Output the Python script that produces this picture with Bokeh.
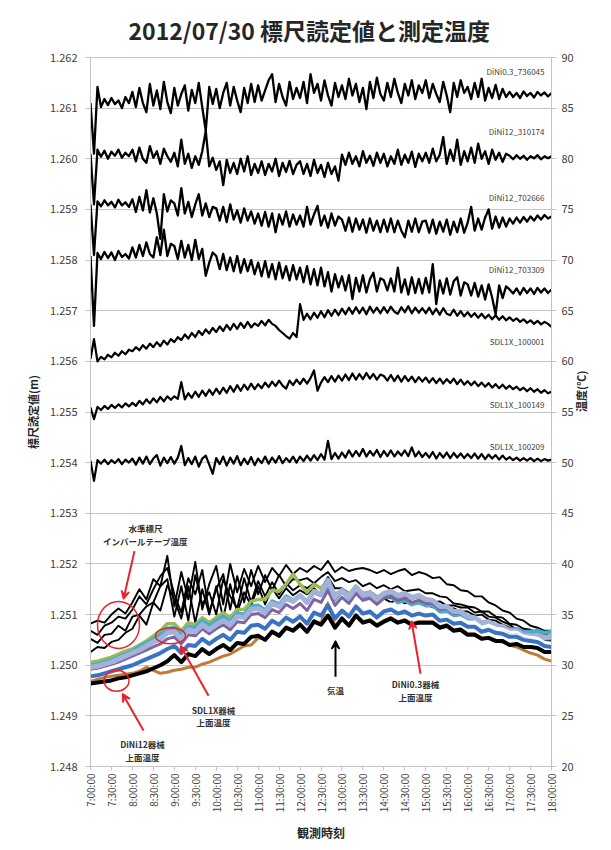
import math
from bokeh.plotting import figure
from bokeh.models import Range1d, LinearAxis, FixedTicker, NumeralTickFormatter, Label, Arrow, VeeHead
from bokeh.embed import file_html
from bokeh.resources import INLINE

FONT = "Noto Sans CJK JP"

# ---------------- data ----------------
title_text = "2012/07/30 標尺読定値と測定温度"
time_labels = ["7:00:00", "7:30:00", "8:00:00", "8:30:00", "9:00:00", "9:30:00", "10:00:00", "10:30:00",
               "11:00:00", "11:30:00", "12:00:00", "12:30:00", "13:00:00", "13:30:00", "14:00:00", "14:30:00",
               "15:00:00", "15:30:00", "16:00:00", "16:30:00", "17:00:00", "17:30:00", "18:00:00"]
left_ticks = [1.248, 1.249, 1.250, 1.251, 1.252, 1.253, 1.254, 1.255, 1.256, 1.257, 1.258, 1.259, 1.260, 1.261, 1.262]
right_ticks = [20, 25, 30, 35, 40, 45, 50, 55, 60, 65, 70, 75, 80, 85, 90]

# staff readings (m), every 5 minutes from 7:00
dini03_736045 = [1.26110, 1.26010, 1.26142,
    1.26102, 1.26118, 1.26106, 1.26120, 1.26108, 1.26115, 1.26100, 1.26122, 1.26110,
    1.26132, 1.26102, 1.26140, 1.26110, 1.26092, 1.26148, 1.26105, 1.26135, 1.26098, 1.26152, 1.26112, 1.26090,
    1.26140, 1.26105, 1.26128, 1.26145, 1.26095, 1.26136, 1.26110, 1.26150, 1.26102, 1.26055, 1.26142, 1.26108,
    1.26138, 1.26100, 1.26130, 1.26150, 1.26105, 1.26142, 1.26115, 1.26092, 1.26140, 1.26110, 1.26148, 1.26112,
    1.26145, 1.26115, 1.26135, 1.26155, 1.26167, 1.26112, 1.26148, 1.26122, 1.26105, 1.26152, 1.26118, 1.26140,
    1.26120, 1.26152, 1.26110, 1.26167, 1.26130, 1.26148, 1.26115, 1.26155, 1.26125, 1.26105, 1.26150, 1.26122,
    1.26145, 1.26118, 1.26158, 1.26125, 1.26148, 1.26112, 1.26140, 1.26098, 1.26152, 1.26120, 1.26160, 1.26128,
    1.26115, 1.26150, 1.26122, 1.26158, 1.26130, 1.26110, 1.26148, 1.26125, 1.26155, 1.26118, 1.26145, 1.26130,
    1.26155, 1.26120, 1.26148, 1.26128, 1.26112, 1.26152, 1.26125, 1.26092, 1.26150, 1.26122, 1.26155, 1.26130,
    1.26142, 1.26118, 1.26150, 1.26122, 1.26158, 1.26115, 1.26140, 1.26120, 1.26146, 1.26118, 1.26138, 1.26122,
    1.26132, 1.26122, 1.26130, 1.26120, 1.26133, 1.26124, 1.26130, 1.26121, 1.26132, 1.26125, 1.26131, 1.26123, 1.26130]
dini12_310174 = [1.26010, 1.25910, 1.26018,
    1.26004, 1.26016, 1.26000, 1.26014, 1.26006, 1.26018, 1.26002, 1.26012, 1.26005,
    1.26018, 1.25995, 1.26022, 1.26000, 1.25992, 1.26025, 1.26002, 1.26015, 1.25990, 1.26020, 1.26005, 1.25994,
    1.26012, 1.25985, 1.26038, 1.25990, 1.26010, 1.25982, 1.26005, 1.25988, 1.26015, 1.26055, 1.25985, 1.26002,
    1.25978, 1.25995, 1.25948, 1.25998, 1.25972, 1.25992, 1.25970, 1.26000, 1.25975, 1.26005, 1.25968, 1.25990,
    1.25972, 1.25995, 1.25968, 1.25990, 1.25975, 1.26000, 1.25966, 1.25992, 1.25974, 1.25996, 1.25970, 1.25988,
    1.25995, 1.25970, 1.25990, 1.25966, 1.25998, 1.25972, 1.25988, 1.25964, 1.25992, 1.25970, 1.25985, 1.25957,
    1.26008, 1.25988, 1.26012, 1.25990, 1.26005, 1.25985, 1.26015, 1.25992, 1.26006, 1.25986, 1.26012, 1.25992,
    1.26010, 1.25985, 1.26005, 1.25990, 1.26018, 1.25988, 1.26008, 1.25992, 1.26014, 1.25984, 1.26010, 1.25995,
    1.26012, 1.25992, 1.26020, 1.25995, 1.26008, 1.26043, 1.25990, 1.26018, 1.25996, 1.26038, 1.25988, 1.26015,
    1.25995, 1.26022, 1.25992, 1.26030, 1.26000, 1.26015, 1.25990, 1.26018, 1.25998, 1.26012, 1.25994, 1.26010,
    1.26006, 1.25999, 1.26007, 1.26000, 1.26006, 1.25998, 1.26005, 1.26001, 1.26007, 1.25999, 1.26005, 1.26001, 1.26005]
dini12_702666 = [1.25910, 1.25810, 1.25916,
    1.25906, 1.25918, 1.25908, 1.25915, 1.25904, 1.25919, 1.25908, 1.25914, 1.25905,
    1.25920, 1.25895, 1.25925, 1.25898, 1.25938, 1.25894, 1.25922, 1.25892, 1.25842, 1.25930, 1.25896, 1.25918,
    1.25912, 1.25888, 1.25942, 1.25892, 1.25915, 1.25885, 1.25910, 1.25930, 1.25888, 1.25912, 1.25885, 1.25905,
    1.25902, 1.25878, 1.25905, 1.25875, 1.25910, 1.25880, 1.25898, 1.25874, 1.25902, 1.25878, 1.25896, 1.25872,
    1.25892, 1.25868, 1.25895, 1.25866, 1.25892, 1.25855, 1.25890, 1.25870, 1.25896, 1.25866, 1.25890, 1.25870,
    1.25888, 1.25866, 1.25905, 1.25870, 1.25890, 1.25907, 1.25868, 1.25888, 1.25864, 1.25892, 1.25868, 1.25886,
    1.25880, 1.25858, 1.25884, 1.25856, 1.25882, 1.25860, 1.25880, 1.25854, 1.25882, 1.25858, 1.25878, 1.25855,
    1.25880, 1.25856, 1.25882, 1.25855, 1.25878, 1.25858, 1.25845, 1.25878, 1.25856, 1.25882, 1.25855, 1.25876,
    1.25878, 1.25854, 1.25880, 1.25852, 1.25876, 1.25856, 1.25880, 1.25850, 1.25876, 1.25855, 1.25882, 1.25854,
    1.25874, 1.25905, 1.25858, 1.25882, 1.25860, 1.25884, 1.25900, 1.25862, 1.25886, 1.25864, 1.25884, 1.25866,
    1.25882, 1.25872, 1.25884, 1.25874, 1.25885, 1.25876, 1.25886, 1.25878, 1.25888, 1.25880, 1.25889, 1.25882, 1.25886]
dini12_703309 = [1.25808, 1.25670, 1.25814,
    1.25802, 1.25816, 1.25804, 1.25815, 1.25800, 1.25818, 1.25806, 1.25812, 1.25803,
    1.25825, 1.25805, 1.25830, 1.25808, 1.25835, 1.25812, 1.25805, 1.25845, 1.25810, 1.25860, 1.25808, 1.25832,
    1.25828, 1.25802, 1.25838, 1.25805, 1.25830, 1.25800, 1.25840, 1.25802, 1.25822, 1.25769, 1.25795, 1.25815,
    1.25808, 1.25782, 1.25812, 1.25780, 1.25805, 1.25778, 1.25808, 1.25775, 1.25802, 1.25778, 1.25800, 1.25772,
    1.25795, 1.25768, 1.25798, 1.25766, 1.25792, 1.25762, 1.25795, 1.25764, 1.25788, 1.25760, 1.25790, 1.25762,
    1.25785, 1.25756, 1.25788, 1.25752, 1.25782, 1.25750, 1.25785, 1.25748, 1.25776, 1.25738, 1.25772, 1.25746,
    1.25768, 1.25740, 1.25770, 1.25723, 1.25765, 1.25738, 1.25770, 1.25736, 1.25762, 1.25775, 1.25738, 1.25764,
    1.25760, 1.25740, 1.25764, 1.25738, 1.25785, 1.25736, 1.25762, 1.25732, 1.25766, 1.25735, 1.25763, 1.25734,
    1.25765, 1.25736, 1.25792, 1.25713, 1.25760, 1.25734, 1.25764, 1.25732, 1.25758, 1.25766, 1.25730, 1.25756,
    1.25752, 1.25730, 1.25755, 1.25728, 1.25750, 1.25722, 1.25752, 1.25726, 1.25693, 1.25750, 1.25725, 1.25748,
    1.25742, 1.25734, 1.25744, 1.25732, 1.25745, 1.25735, 1.25744, 1.25733, 1.25745, 1.25736, 1.25744, 1.25735, 1.25742]
sdl1x_100001 = [1.25605, 1.25644, 1.25600,
    1.25609, 1.25604, 1.25613, 1.25608, 1.25617, 1.25611, 1.25620, 1.25614, 1.25623,
    1.25620, 1.25628, 1.25622, 1.25632, 1.25625, 1.25635, 1.25628, 1.25638, 1.25630, 1.25641, 1.25633, 1.25644,
    1.25638, 1.25648, 1.25642, 1.25653, 1.25645, 1.25656, 1.25648, 1.25660, 1.25652, 1.25663, 1.25655, 1.25666,
    1.25658, 1.25669, 1.25660, 1.25672, 1.25662, 1.25674, 1.25664, 1.25676, 1.25666, 1.25678, 1.25667, 1.25675,
    1.25670, 1.25680, 1.25671, 1.25682, 1.25674, 1.25670, 1.25662, 1.25656, 1.25650, 1.25645, 1.25656, 1.25648,
    1.25713, 1.25682, 1.25694, 1.25683, 1.25696, 1.25686, 1.25699, 1.25687, 1.25701, 1.25690, 1.25702, 1.25691,
    1.25704, 1.25693, 1.25706, 1.25694, 1.25707, 1.25695, 1.25706, 1.25693, 1.25708, 1.25696, 1.25706, 1.25695,
    1.25707, 1.25696, 1.25708, 1.25698, 1.25694, 1.25707, 1.25697, 1.25709, 1.25695, 1.25706, 1.25696, 1.25705,
    1.25695, 1.25706, 1.25693, 1.25704, 1.25692, 1.25705, 1.25694, 1.25691, 1.25702, 1.25690, 1.25699, 1.25689,
    1.25697, 1.25688, 1.25695, 1.25686, 1.25694, 1.25685, 1.25692, 1.25683, 1.25691, 1.25682, 1.25689, 1.25681,
    1.25687, 1.25680, 1.25685, 1.25678, 1.25683, 1.25676, 1.25681, 1.25674, 1.25680, 1.25673, 1.25678, 1.25674, 1.25668]
sdl1x_100149 = [1.25509, 1.25486, 1.25510,
    1.25504, 1.25512, 1.25506, 1.25514, 1.25508, 1.25515, 1.25509, 1.25517, 1.25511,
    1.25518, 1.25512, 1.25522, 1.25515, 1.25525, 1.25517, 1.25527, 1.25519, 1.25530, 1.25521, 1.25531, 1.25524,
    1.25531, 1.25526, 1.25559, 1.25525, 1.25537, 1.25528, 1.25540, 1.25530, 1.25542, 1.25532, 1.25544, 1.25534,
    1.25546, 1.25536, 1.25548, 1.25538, 1.25551, 1.25540, 1.25553, 1.25542, 1.25554, 1.25544, 1.25556, 1.25545,
    1.25555, 1.25547, 1.25558, 1.25549, 1.25560, 1.25551, 1.25562, 1.25552, 1.25546, 1.25562, 1.25553, 1.25564,
    1.25555, 1.25566, 1.25556, 1.25567, 1.25582, 1.25542, 1.25558, 1.25569, 1.25559, 1.25571, 1.25560, 1.25572,
    1.25562, 1.25574, 1.25563, 1.25576, 1.25564, 1.25575, 1.25565, 1.25577, 1.25566, 1.25575, 1.25564, 1.25574,
    1.25571, 1.25562, 1.25573, 1.25561, 1.25572, 1.25560, 1.25571, 1.25561, 1.25570, 1.25559, 1.25569, 1.25560,
    1.25568, 1.25558, 1.25567, 1.25557, 1.25566, 1.25556, 1.25565, 1.25557, 1.25566, 1.25555, 1.25564, 1.25554,
    1.25561, 1.25553, 1.25560, 1.25551, 1.25558, 1.25550, 1.25557, 1.25548, 1.25555, 1.25547, 1.25554, 1.25546,
    1.25552, 1.25545, 1.25550, 1.25543, 1.25548, 1.25541, 1.25547, 1.25540, 1.25545, 1.25538, 1.25543, 1.25537, 1.25540]
sdl1x_100209 = [1.25404, 1.25364, 1.25405,
    1.25398, 1.25406, 1.25397, 1.25405, 1.25399, 1.25407, 1.25397, 1.25406, 1.25400,
    1.25408, 1.25396, 1.25410, 1.25398, 1.25412, 1.25397, 1.25408, 1.25415, 1.25394, 1.25410, 1.25399, 1.25411,
    1.25398, 1.25410, 1.25433, 1.25395, 1.25409, 1.25397, 1.25412, 1.25392, 1.25408, 1.25414, 1.25396, 1.25378,
    1.25409, 1.25397, 1.25412, 1.25394, 1.25410, 1.25398, 1.25413, 1.25395, 1.25408, 1.25397, 1.25411, 1.25395,
    1.25408, 1.25399, 1.25412, 1.25398, 1.25410, 1.25400, 1.25413, 1.25399, 1.25409, 1.25401, 1.25412, 1.25400,
    1.25412, 1.25403, 1.25414, 1.25404, 1.25415, 1.25405, 1.25417, 1.25406, 1.25443, 1.25407, 1.25419, 1.25408,
    1.25420, 1.25410, 1.25424, 1.25412, 1.25423, 1.25413, 1.25427, 1.25412, 1.25423, 1.25414, 1.25425, 1.25411,
    1.25423, 1.25413, 1.25424, 1.25412, 1.25422, 1.25414, 1.25424, 1.25413, 1.25430, 1.25412, 1.25422, 1.25411,
    1.25419, 1.25410, 1.25421, 1.25408, 1.25419, 1.25410, 1.25420, 1.25409, 1.25419, 1.25410, 1.25418, 1.25409,
    1.25417, 1.25409, 1.25418, 1.25408, 1.25417, 1.25407, 1.25416, 1.25408, 1.25415, 1.25406, 1.25414, 1.25406,
    1.25411, 1.25405, 1.25410, 1.25404, 1.25409, 1.25404, 1.25409, 1.25403, 1.25408, 1.25403, 1.25407, 1.25404, 1.25406]

reading_series = [("DiNi0.3_736045", dini03_736045), ("DiNi12_310174", dini12_310174),
                  ("DiNi12_702666", dini12_702666), ("DiNi12_703309", dini12_703309),
                  ("SDL1X_100001", sdl1x_100001), ("SDL1X_100149", sdl1x_100149),
                  ("SDL1X_100209", sdl1x_100209)]

# temperatures (deg C), every 10 minutes from 7:00
invar_tape_1 = [34.1, 34.4, 34.2, 35.0, 35.6, 35.1, 36.2, 37.5, 36.5, 38.5, 37.8, 40.8,
    35.8, 39.2, 36.5, 40.2, 35.5, 38.0, 39.8, 36.0, 40.0, 37.2, 39.5, 37.8,
    39.8, 38.2, 39.6, 38.8, 39.9, 39.0, 39.6, 39.2, 39.8, 39.4, 40.3, 39.2,
    39.7, 39.3, 39.5, 39.6, 39.4, 39.1, 39.4, 39.0, 39.3, 39.5, 38.9, 39.2,
    39.0, 38.6, 38.7, 38.0, 37.9, 37.4, 37.3, 36.8, 36.8, 36.2, 35.9, 35.4,
    35.2, 34.6, 34.4, 33.9, 33.7, 33.4, 33.4]
invar_tape_2 = [33.4, 33.0, 33.9, 34.2, 34.8, 34.6, 35.5, 36.8, 36.0, 37.5, 38.8, 39.6,
    37.0, 35.2, 38.6, 37.0, 39.4, 35.2, 37.5, 39.0, 35.5, 38.8, 36.2, 39.4,
    37.0, 38.9, 37.4, 38.9, 37.8, 38.5, 38.4, 38.6, 38.1, 38.7, 39.2, 38.3,
    38.6, 38.2, 38.4, 37.8, 38.1, 37.6, 37.9, 37.5, 37.8, 37.3, 37.4, 37.5,
    37.1, 37.1, 36.8, 36.7, 36.1, 36.0, 35.8, 35.7, 35.3, 35.3, 34.8, 34.7,
    34.1, 34.0, 33.6, 33.5, 33.2, 33.1, 32.8]
invar_tape_3 = [32.6, 32.2, 33.0, 33.1, 33.9, 33.4, 34.8, 35.0, 35.8, 36.2, 37.8, 38.5,
    34.8, 37.8, 34.4, 38.9, 36.0, 37.2, 35.0, 38.5, 36.8, 35.6, 38.6, 36.2,
    38.3, 36.8, 38.2, 37.0, 38.1, 37.4, 37.9, 37.6, 38.1, 37.5, 38.7, 37.6,
    37.6, 37.1, 37.5, 36.9, 37.3, 36.8, 37.0, 36.6, 37.0, 36.7, 36.7, 36.6,
    36.6, 36.2, 36.3, 35.9, 35.9, 35.7, 35.7, 35.2, 35.3, 34.8, 34.7, 34.3,
    34.0, 33.5, 33.5, 33.0, 33.0, 32.6, 32.6]
invar_tape_4 = [31.3, 31.8, 31.7, 32.3, 32.5, 33.2, 33.6, 34.9, 34.0, 36.2, 35.4, 37.9,
    36.5, 34.6, 37.8, 34.2, 37.5, 35.0, 37.8, 34.6, 38.0, 35.2, 37.2, 35.9,
    37.8, 36.0, 37.6, 36.6, 37.6, 36.9, 37.4, 37.0, 37.6, 36.9, 38.0, 36.9,
    37.2, 36.7, 37.1, 36.5, 36.8, 36.3, 36.6, 36.2, 36.5, 36.1, 36.2, 36.1,
    36.1, 35.7, 35.9, 35.5, 35.6, 35.3, 35.3, 34.9, 35.0, 34.5, 34.4, 34.0,
    33.7, 33.3, 33.2, 32.8, 32.8, 32.4, 32.4]
air_temp = [28.2, 28.3, 28.4, 28.5, 28.7, 28.8, 29.0, 29.2, 29.4, 29.7, 30.0, 30.4,
    31.0, 30.3, 31.1, 30.9, 31.6, 31.1, 31.6, 32.0, 31.5, 32.2, 32.1, 32.8,
    32.9, 32.5, 33.3, 32.9, 33.7, 33.4, 34.0, 33.3, 34.3, 34.0, 34.9, 33.7,
    34.6, 33.9, 34.9, 34.2, 34.4, 33.9, 34.3, 34.6, 34.2, 34.4, 34.0, 34.2,
    34.2, 34.2, 33.7, 33.9, 33.4, 33.5, 33.0, 33.0, 32.6, 32.7, 32.4, 32.4,
    32.0, 32.1, 31.8, 31.8, 31.7, 31.3, 31.3]
dini12_top = [28.4, 28.6, 28.8, 28.9, 29.0, 29.1, 29.2, 29.4, 29.8, 29.5, 29.2, 29.3,
    29.5, 29.6, 29.8, 29.8, 30.1, 30.3, 30.6, 30.9, 31.1, 31.5, 31.9, 32.0,
    32.7, 32.6, 33.4, 33.0, 33.8, 33.5, 34.1, 33.4, 34.4, 34.1, 36.5, 33.8,
    34.7, 34.0, 35.0, 34.3, 34.5, 34.0, 34.4, 34.7, 34.3, 34.5, 34.1, 34.3,
    34.3, 34.3, 33.8, 34.0, 33.5, 33.6, 33.1, 33.1, 32.7, 32.7, 32.4, 32.3,
    32.0, 31.8, 31.5, 31.2, 31.0, 30.6, 30.4]
dini03_top = [28.9, 29.0, 29.2, 29.4, 29.6, 29.8, 30.0, 30.3, 30.6, 30.9, 31.2, 31.6,
    31.9, 31.2, 32.0, 31.9, 32.6, 32.1, 32.6, 33.0, 32.5, 33.3, 33.2, 33.9,
    34.0, 33.6, 34.4, 34.0, 34.7, 34.3, 34.8, 34.1, 35.2, 34.9, 35.9, 34.6,
    35.4, 34.8, 35.8, 35.1, 35.3, 34.7, 35.3, 35.5, 35.1, 35.3, 34.9, 35.1,
    34.9, 35.0, 34.4, 34.5, 34.1, 34.2, 33.8, 33.8, 33.3, 33.5, 33.2, 33.1,
    32.8, 32.8, 32.5, 32.4, 32.3, 31.9, 31.8]
top_white = [29.3, 29.4, 29.6, 29.8, 30.0, 30.2, 30.5, 30.8, 31.1, 31.4, 31.7, 32.1,
    32.3, 31.7, 32.5, 32.4, 33.1, 32.6, 33.1, 33.5, 33.0, 33.8, 33.7, 34.4,
    34.5, 34.1, 34.9, 34.5, 35.3, 34.9, 35.4, 34.7, 35.8, 35.5, 36.6, 35.2,
    36.0, 35.4, 36.4, 35.7, 35.9, 35.3, 35.9, 36.1, 35.7, 35.9, 35.5, 35.7,
    35.5, 35.5, 34.9, 35.0, 34.6, 34.7, 34.3, 34.3, 33.8, 34.0, 33.7, 33.6,
    33.3, 33.3, 32.9, 32.8, 32.7, 32.3, 32.2]
top_purple = [29.6, 29.7, 29.9, 30.1, 30.3, 30.6, 30.9, 31.2, 31.5, 31.8, 32.1, 32.6,
    32.8, 32.1, 33.0, 32.9, 33.6, 33.1, 33.6, 34.0, 33.5, 34.3, 34.2, 35.0,
    35.1, 34.7, 35.5, 35.2, 36.0, 35.6, 36.1, 35.4, 36.5, 36.2, 37.4, 35.9,
    36.7, 36.1, 37.1, 36.4, 36.6, 36.0, 36.6, 36.8, 36.4, 36.6, 36.2, 36.4,
    36.1, 36.1, 35.5, 35.6, 35.1, 35.2, 34.7, 34.7, 34.2, 34.3, 34.0, 33.9,
    33.5, 33.5, 33.1, 33.0, 32.9, 32.6, 32.6]
top_lavender = [29.8, 29.9, 30.1, 30.3, 30.6, 30.9, 31.2, 31.5, 31.9, 32.3, 32.6, 33.2,
    33.3, 32.6, 33.5, 33.3, 34.0, 33.5, 34.0, 34.4, 34.0, 34.8, 34.7, 35.5,
    35.6, 35.2, 36.1, 35.8, 36.6, 36.3, 36.9, 36.2, 37.3, 37.0, 38.4, 36.7,
    37.4, 36.7, 37.7, 36.9, 37.1, 36.5, 37.1, 37.3, 36.9, 37.1, 36.7, 36.9,
    36.5, 36.4, 35.8, 35.8, 35.3, 35.3, 34.8, 34.7, 34.2, 34.3, 33.9, 33.8,
    33.4, 33.4, 33.0, 32.9, 32.9, 32.7, 32.8]
top_cyan = [30.0, 30.1, 30.3, 30.5, 30.8, 31.1, 31.4, 31.8, 32.2, 32.6, 33.0, 33.6,
    33.7, 33.0, 33.8, 33.7, 34.4, 33.9, 34.4, 34.8, 34.3, 35.1, 35.0, 35.8,
    35.9, 35.4, 36.3, 36.0, 36.8, 36.4, 36.9, 36.2, 37.2, 36.9, 37.8, 36.5,
    37.3, 36.6, 37.5, 36.7, 36.9, 36.3, 36.8, 36.8, 36.2, 36.4, 36.0, 36.2,
    35.9, 35.9, 35.3, 35.3, 34.9, 35.0, 34.5, 34.5, 34.0, 34.1, 33.9, 33.8,
    33.5, 33.6, 33.3, 33.3, 33.4, 33.2, 33.3]
top_green = [30.3, 30.4, 30.6, 30.8, 31.1, 31.4, 31.6, 32.0, 32.4, 32.9, 33.4, 34.1,
    34.1, 33.4, 34.2, 34.0, 34.7, 34.2, 34.7, 35.2, 34.7, 35.5, 35.5, 36.3,
    36.5, 36.5, 37.4, 37.3, 38.0, 39.0, 38.0, 37.2, 38.0, 37.6, 38.3, 37.0,
    37.4, 37.0, 37.8, 37.1, 37.2, 36.7, 37.1, 37.1, 36.5, 37.0, 36.6, 36.7,
    36.2, 36.2, 35.5, 35.5, 35.1, 35.1, 34.6, 34.5, 34.0, 34.1, 33.8, 33.7,
    33.4, 33.5, 33.1, 33.1, 33.1, 32.8, 32.9]

# ---------------- layout helpers ----------------
W, H = 611, 850
FL, FR, FT, FB = 90, 551, 55, 766
X0, X1 = 420, 1080          # minutes after midnight (7:00 - 18:00)
Y0, Y1 = 1.248, 1.262
RED = "#e8232a"
GRID = "#c4c4c4"
TXT = "#404040"
DARK = "#262626"


def mx(px):
    return X0 + (px - FL) * (X1 - X0) / (FR - FL)


def ry(py):
    return Y1 - (py - FT) * (Y1 - Y0) / (FB - FT)


p = figure(width=W, height=H, x_range=Range1d(X0, X1), y_range=Range1d(Y0, Y1),
           output_backend="svg", toolbar_location=None,
           min_border_left=FL, min_border_right=W - FR, min_border_top=FT, min_border_bottom=H - FB,
           background_fill_color="white", border_fill_color="white")
p.extra_y_ranges = {"temp": Range1d(20, 90)}
p.outline_line_color = GRID
p.xgrid.visible = False
p.ygrid.ticker = FixedTicker(ticks=left_ticks)
p.ygrid.grid_line_color = GRID
p.ygrid.grid_line_width = 1

p.title.text = title_text
p.title.align = "left"
p.title.offset = 38
p.title.standoff = 21
p.title.text_font = FONT
p.title.text_font_size = "23px"
p.title.text_font_style = "bold"
p.title.text_color = DARK

x_ticks = [X0 + 30 * k for k in range(len(time_labels))]
xa = p.xaxis[0]
xa.ticker = FixedTicker(ticks=x_ticks)
xa.major_label_overrides = {t: lab for t, lab in zip(x_ticks, time_labels)}
xa.major_label_orientation = math.pi / 2
xa.major_label_text_font = FONT
xa.major_label_text_font_size = "10px"
xa.major_label_text_color = TXT
xa.major_label_standoff = 3
xa.axis_line_color = GRID
xa.major_tick_line_color = GRID
xa.major_tick_out = 4
xa.major_tick_in = 0
xa.minor_tick_line_color = None
xa.axis_label = "観測時刻"
xa.axis_label_text_font = FONT
xa.axis_label_text_font_size = "12px"
xa.axis_label_text_font_style = "bold"
xa.axis_label_text_color = DARK
xa.axis_label_standoff = 9

ya = p.yaxis[0]
ya.ticker = FixedTicker(ticks=left_ticks)
ya.formatter = NumeralTickFormatter(format="0.000")
ya.major_label_text_font = FONT
ya.major_label_text_font_size = "11px"
ya.major_label_text_color = TXT
ya.major_label_standoff = 8
ya.axis_line_color = GRID
ya.major_tick_line_color = GRID
ya.major_tick_out = 5
ya.major_tick_in = 0
ya.minor_tick_line_color = None
ya.axis_label = "標尺読定値(m)"
ya.axis_label_text_font = FONT
ya.axis_label_text_font_size = "11px"
ya.axis_label_text_font_style = "bold"
ya.axis_label_text_color = DARK
ya.axis_label_standoff = 6

ra = LinearAxis(y_range_name="temp", ticker=FixedTicker(ticks=right_ticks))
ra.major_label_text_font = FONT
ra.major_label_text_font_size = "11px"
ra.major_label_text_color = TXT
ra.major_label_standoff = 5
ra.axis_line_color = GRID
ra.major_tick_line_color = GRID
ra.major_tick_out = 5
ra.major_tick_in = 0
ra.minor_tick_line_color = None
ra.axis_label = "温度(℃)"
ra.axis_label_text_font = FONT
ra.axis_label_text_font_size = "11px"
ra.axis_label_text_font_style = "bold"
ra.axis_label_text_color = DARK
ra.axis_label_standoff = 4
try:
    ra.axis_label_orientation = math.pi / 2
except Exception:
    pass
p.add_layout(ra, "right")

# ---------------- staff readings ----------------
for name, vals in reading_series:
    xs = [X0 + 5 * i for i in range(len(vals))]
    lw = 2.3 if name.startswith("DiNi") else 2.2
    p.line(xs, vals, line_color="black", line_width=lw, line_join="round")

# ---------------- temperatures ----------------
def tline(vals, color, width):
    xs = [X0 + 10 * j for j in range(len(vals))]
    p.line(xs, vals, line_color=color, line_width=width, y_range_name="temp", line_join="round")

for v in (invar_tape_1, invar_tape_2, invar_tape_3, invar_tape_4):
    tline(v, "black", 1.9)
tline(dini12_top, "#c27a34", 3)
tline(top_green, "#9bbb59", 3.5)
tline(top_cyan, "#4bacc6", 4)
tline(top_purple, "#8064a2", 3)
tline(top_lavender, "#a3b1db", 5)
tline(top_white, "#ffffff", 2.2)
tline(dini03_top, "#3a73c4", 4)
tline(air_temp, "black", 4)

# ---------------- texts ----------------
def lab(text, px, py, size="8px", bold=False, align="center", color=TXT):
    p.add_layout(Label(x=mx(px), y=ry(py), text=text, text_align=align, text_baseline="middle",
                       text_font=FONT, text_font_size=size, text_color=color,
                       text_font_style="bold" if bold else "normal"))

series_label_y = [69, 129, 195, 268, 340, 403, 445]
for (name, _), py in zip(reading_series, series_label_y):
    lab(name, 544, py, size="8px", align="right", color=TXT)

for text, px, py in [("水準標尺", 145, 527), ("インバールテープ温度", 145, 540),
                     ("SDL1X器械", 213, 709), ("上面温度", 213, 721),
                     ("DiNi12器械", 142, 743), ("上面温度", 142, 756),
                     ("気温", 335, 689),
                     ("DiNi0.3器械", 415, 683), ("上面温度", 415, 696)]:
    lab(text, px, py, size="8.5px", bold=True, color="#303030")

# arrows
for (x0, y0, x1, y1, col) in [(134, 550, 123, 598, RED), (208, 695, 180, 645, RED),
                              (143, 730, 122, 693, RED), (335, 676, 335, 640, "black"),
                              (420, 673, 411, 620, RED)]:
    p.add_layout(Arrow(x_start=mx(x0), y_start=ry(y0), x_end=mx(x1), y_end=ry(y1),
                       line_color=col, line_width=2,
                       end=VeeHead(size=8, line_color=col, fill_color=col, line_width=1.5)))

# circles
for (cx, cy, w, h) in [(118, 624, 42, 47), (170, 635, 30, 16), (116, 680, 25, 21)]:
    p.ellipse(x=[mx(cx)], y=[ry(cy)], width=w, height=h, width_units="screen", height_units="screen",
              fill_color=None, line_color=RED, line_width=1.5)

open("out.html", "w").write(file_html(p, INLINE))
